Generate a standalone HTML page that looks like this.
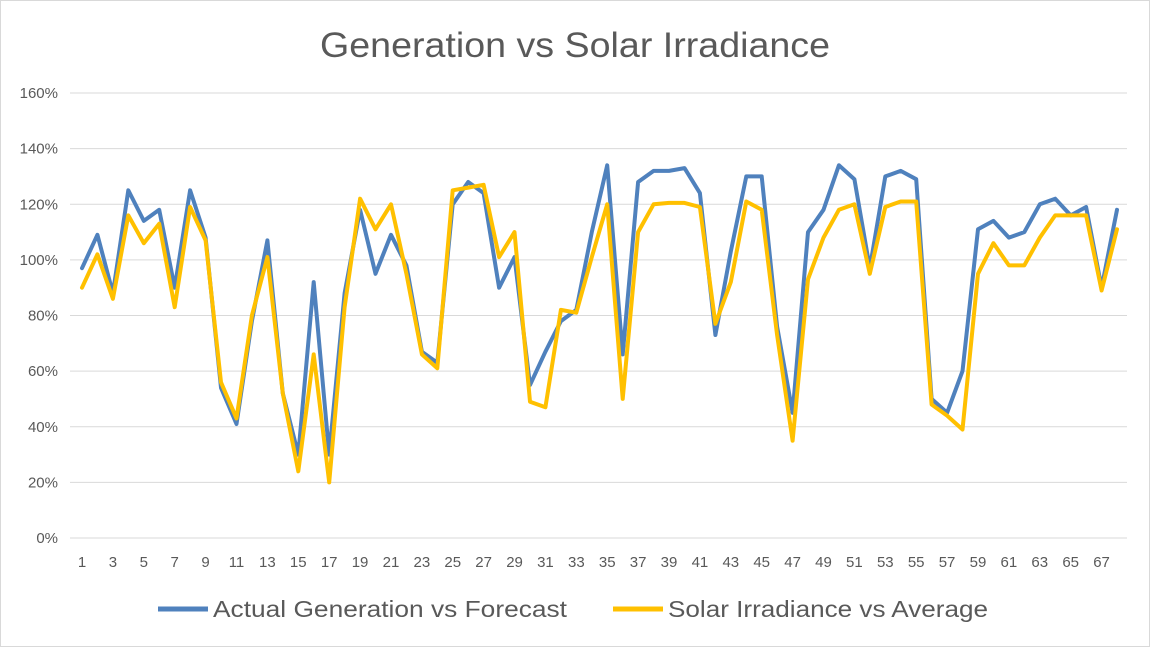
<!DOCTYPE html>
<html><head><meta charset="utf-8"><style>
html,body{margin:0;padding:0;background:#fff;}
svg{display:block;font-family:"Liberation Sans",Calibri,sans-serif;}
</style></head><body>
<svg id="chart" width="1150" height="647" viewBox="0 0 1150 647">
<rect x="0.5" y="0.5" width="1149" height="646" fill="#fff" stroke="#d9d9d9"/>
<text x="320" y="57" textLength="510" lengthAdjust="spacingAndGlyphs" font-size="35" fill="#595959">Generation vs Solar Irradiance</text>
<g id="grid"></g><g id="yticks"></g><g id="xticks"></g><g id="series"></g>
<g>
<line x1="158" y1="609" x2="208" y2="609" stroke="#4f81bd" stroke-width="5"/>
<text x="213" y="617" textLength="354" lengthAdjust="spacingAndGlyphs" font-size="23" fill="#595959">Actual Generation vs Forecast</text>
<line x1="613" y1="609" x2="663" y2="609" stroke="#ffc000" stroke-width="5"/>
<text x="668" y="617" textLength="320" lengthAdjust="spacingAndGlyphs" font-size="23" fill="#595959">Solar Irradiance vs Average</text>
</g>
</svg>
<script>
const categories = Array.from({length:68},(_,i)=>i+1);
const actualGeneration = [97,109,88,125,114,118,90,125,108,54,41,78,107,52,30,92,30,88,118,95,109,98,67,63,120,128,124,90,101,55,67,78,82,110,134,66,128,132,132,133,124,73,103,130,130,76,45,110,118,134,129,97,130,132,129,50,45,60,111,114,108,110,120,122,116,119,90,118];
const solarIrradiance = [90,102,86,116,106,113,83,119,107,56,43,80,101,52,24,66,20,83,122,111,120,95,66,61,125,126,127,101,110,49,47,82,81,101,120,50,110,120,120.5,120.5,119,77,92,121,118,73,35,93,108,118,120,95,119,121,121,48,44,39,95,106,98,98,108,116,116,116,89,111];
const yTicks = [0,20,40,60,80,100,120,140,160];

const NS="http://www.w3.org/2000/svg";
const X0=82, X1=1117, Y0=538, Y1=93, L=70, R=1127;
function xs(i){return X0+(X1-X0)*i/(categories.length-1);}
function ys(v){return Y0-(Y0-Y1)*v/160;}
function mk(t,a,p){const e=document.createElementNS(NS,t);for(const k in a)e.setAttribute(k,a[k]);p.appendChild(e);return e;}
const grid=document.getElementById('grid'), yt=document.getElementById('yticks'), xt=document.getElementById('xticks'), ser=document.getElementById('series');
yTicks.forEach(v=>{
  const g=mk('line',{x1:L,x2:R,y1:ys(v),y2:ys(v),stroke:'#d9d9d9','stroke-width':1},grid);
  
  
  const t=mk('text',{x:58,y:ys(v)+5,'text-anchor':'end','font-size':15,fill:'#595959'},yt);
  t.textContent=v+'%';
  
  
});
categories.forEach((c,i)=>{
  if(c%2===1){
    const t=mk('text',{x:xs(i),y:567,'text-anchor':'middle','font-size':15,fill:'#595959'},xt);
    t.textContent=c;
    
    
  }
});
function line(data,color,name){
  const pts=data.map((v,i)=>xs(i).toFixed(1)+','+ys(v).toFixed(1)).join(' ');
  const p=mk('polyline',{points:pts,fill:'none',stroke:color,'stroke-width':4,'stroke-linejoin':'round','stroke-linecap':'round'},ser);
  
  
}
line(actualGeneration,'#4f81bd','series-actual-generation');
line(solarIrradiance,'#ffc000','series-solar-irradiance');
</script>
</body></html>
